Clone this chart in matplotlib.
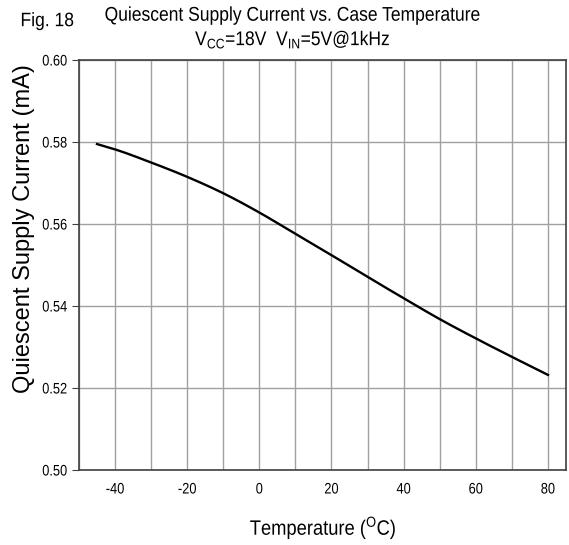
import numpy as np
import matplotlib.pyplot as plt
from matplotlib.patheffects import AbstractPathEffect
from matplotlib.transforms import Affine2D

fam = 'Liberation Sans'
plt.rcParams['font.family'] = [fam, 'DejaVu Sans']
plt.rcParams['mathtext.fontset'] = 'custom'
plt.rcParams['mathtext.rm'] = fam
plt.rcParams['axes.unicode_minus'] = False

# values
temp = [-45, -40, -30, -20, -10, 0, 10, 20, 30, 40, 50, 60, 70, 80]
current = [0.5795, 0.5782, 0.5750, 0.5715, 0.5675, 0.5628, 0.5576,
           0.5524, 0.5471, 0.5419, 0.5368, 0.5321, 0.5276, 0.5232]
xticks = [-40, -20, 0, 20, 40, 60, 80]
yticks = [0.50, 0.52, 0.54, 0.56, 0.58, 0.60]


class Narrow(AbstractPathEffect):
    # squeeze text sideways, the original uses a narrow face
    def __init__(self, s=0.82, anchor='center'):
        super().__init__()
        self.s = s
        self.anchor = anchor

    def draw_path(self, renderer, gc, tpath, affine, rgbFace=None):
        v = tpath.vertices
        if len(v) == 0:
            return
        if self.anchor == 'left':
            cx = 0.0
        elif self.anchor == 'right':
            cx = v[:, 0].max()
        else:
            cx = (v[:, 0].min() + v[:, 0].max()) / 2
        t = Affine2D().translate(-cx, 0).scale(self.s, 1).translate(cx, 0) + affine
        renderer.draw_path(gc, tpath, t, rgbFace)


def smooth(xs, ys, n=20):
    # cubic hermite through the read points
    xs = np.asarray(xs, float)
    ys = np.asarray(ys, float)
    m = np.gradient(ys, xs)
    px, py = [], []
    for i in range(len(xs) - 1):
        h = xs[i + 1] - xs[i]
        t = np.linspace(0, 1, n, endpoint=False)
        h00 = 2 * t**3 - 3 * t**2 + 1
        h10 = t**3 - 2 * t**2 + t
        h01 = -2 * t**3 + 3 * t**2
        h11 = t**3 - t**2
        px.extend(xs[i] + t * h)
        py.extend(h00 * ys[i] + h10 * h * m[i] + h01 * ys[i + 1] + h11 * h * m[i + 1])
    px.append(xs[-1])
    py.append(ys[-1])
    return px, py


t_fine, c_fine = smooth(temp, current)

fig = plt.figure(figsize=(5.69, 5.45), dpi=100)
ax = fig.add_axes([0.1388, 0.1376, 0.8559, 0.7523])

ax.plot(t_fine, c_fine, color='black', linewidth=1.7)

ax.set_xlim(-50, 85)
ax.set_ylim(0.50, 0.60)
ax.set_xticks(xticks)
ax.set_xticks(np.arange(-50, 90, 10), minor=True)
ax.set_yticks(yticks)
ax.set_yticklabels(['%.2f' % v for v in yticks])
ax.grid(True, which='both', axis='x', color='#a0a0a0', linewidth=1)
ax.grid(True, which='major', axis='y', color='#a0a0a0', linewidth=1)
ax.set_axisbelow(True)
ax.tick_params(axis='x', which='both', length=0, labelsize=11, pad=9)
ax.tick_params(axis='y', length=5, labelsize=11, pad=3.5, color='#404040')
for s in ax.spines.values():
    s.set_color('#404040')
    s.set_linewidth(1.2)
plt.setp(ax.get_xticklabels(), path_effects=[Narrow(0.84)])
plt.setp(ax.get_yticklabels(), path_effects=[Narrow(0.84, 'right')])

ax.set_ylabel('Quiescent Supply Current (mA)', fontsize=17, va='center')
ax.yaxis.set_label_coords(-0.113, 0.59)
ax.set_xlabel(r'Temperature ($^{\mathregular{O}}$C)', fontsize=15, va='center',
              path_effects=[Narrow(0.88)])
ax.xaxis.set_label_coords(0.502, -0.141)

fig.text(0.036, 0.952, 'Fig. 18', fontsize=14, va='baseline',
         path_effects=[Narrow(0.9, 'left')])
fig.text(0.515, 0.962, 'Quiescent Supply Current vs. Case Temperature',
         fontsize=14.3, ha='center', va='baseline', path_effects=[Narrow(0.88)])
fig.text(0.515, 0.917, r'V$_{\mathregular{CC}}$=18V  V$_{\mathregular{IN}}$=5V@1kHz',
         fontsize=14.3, ha='center', va='baseline', path_effects=[Narrow(0.88)])

fig.savefig('out.png', dpi=100)
